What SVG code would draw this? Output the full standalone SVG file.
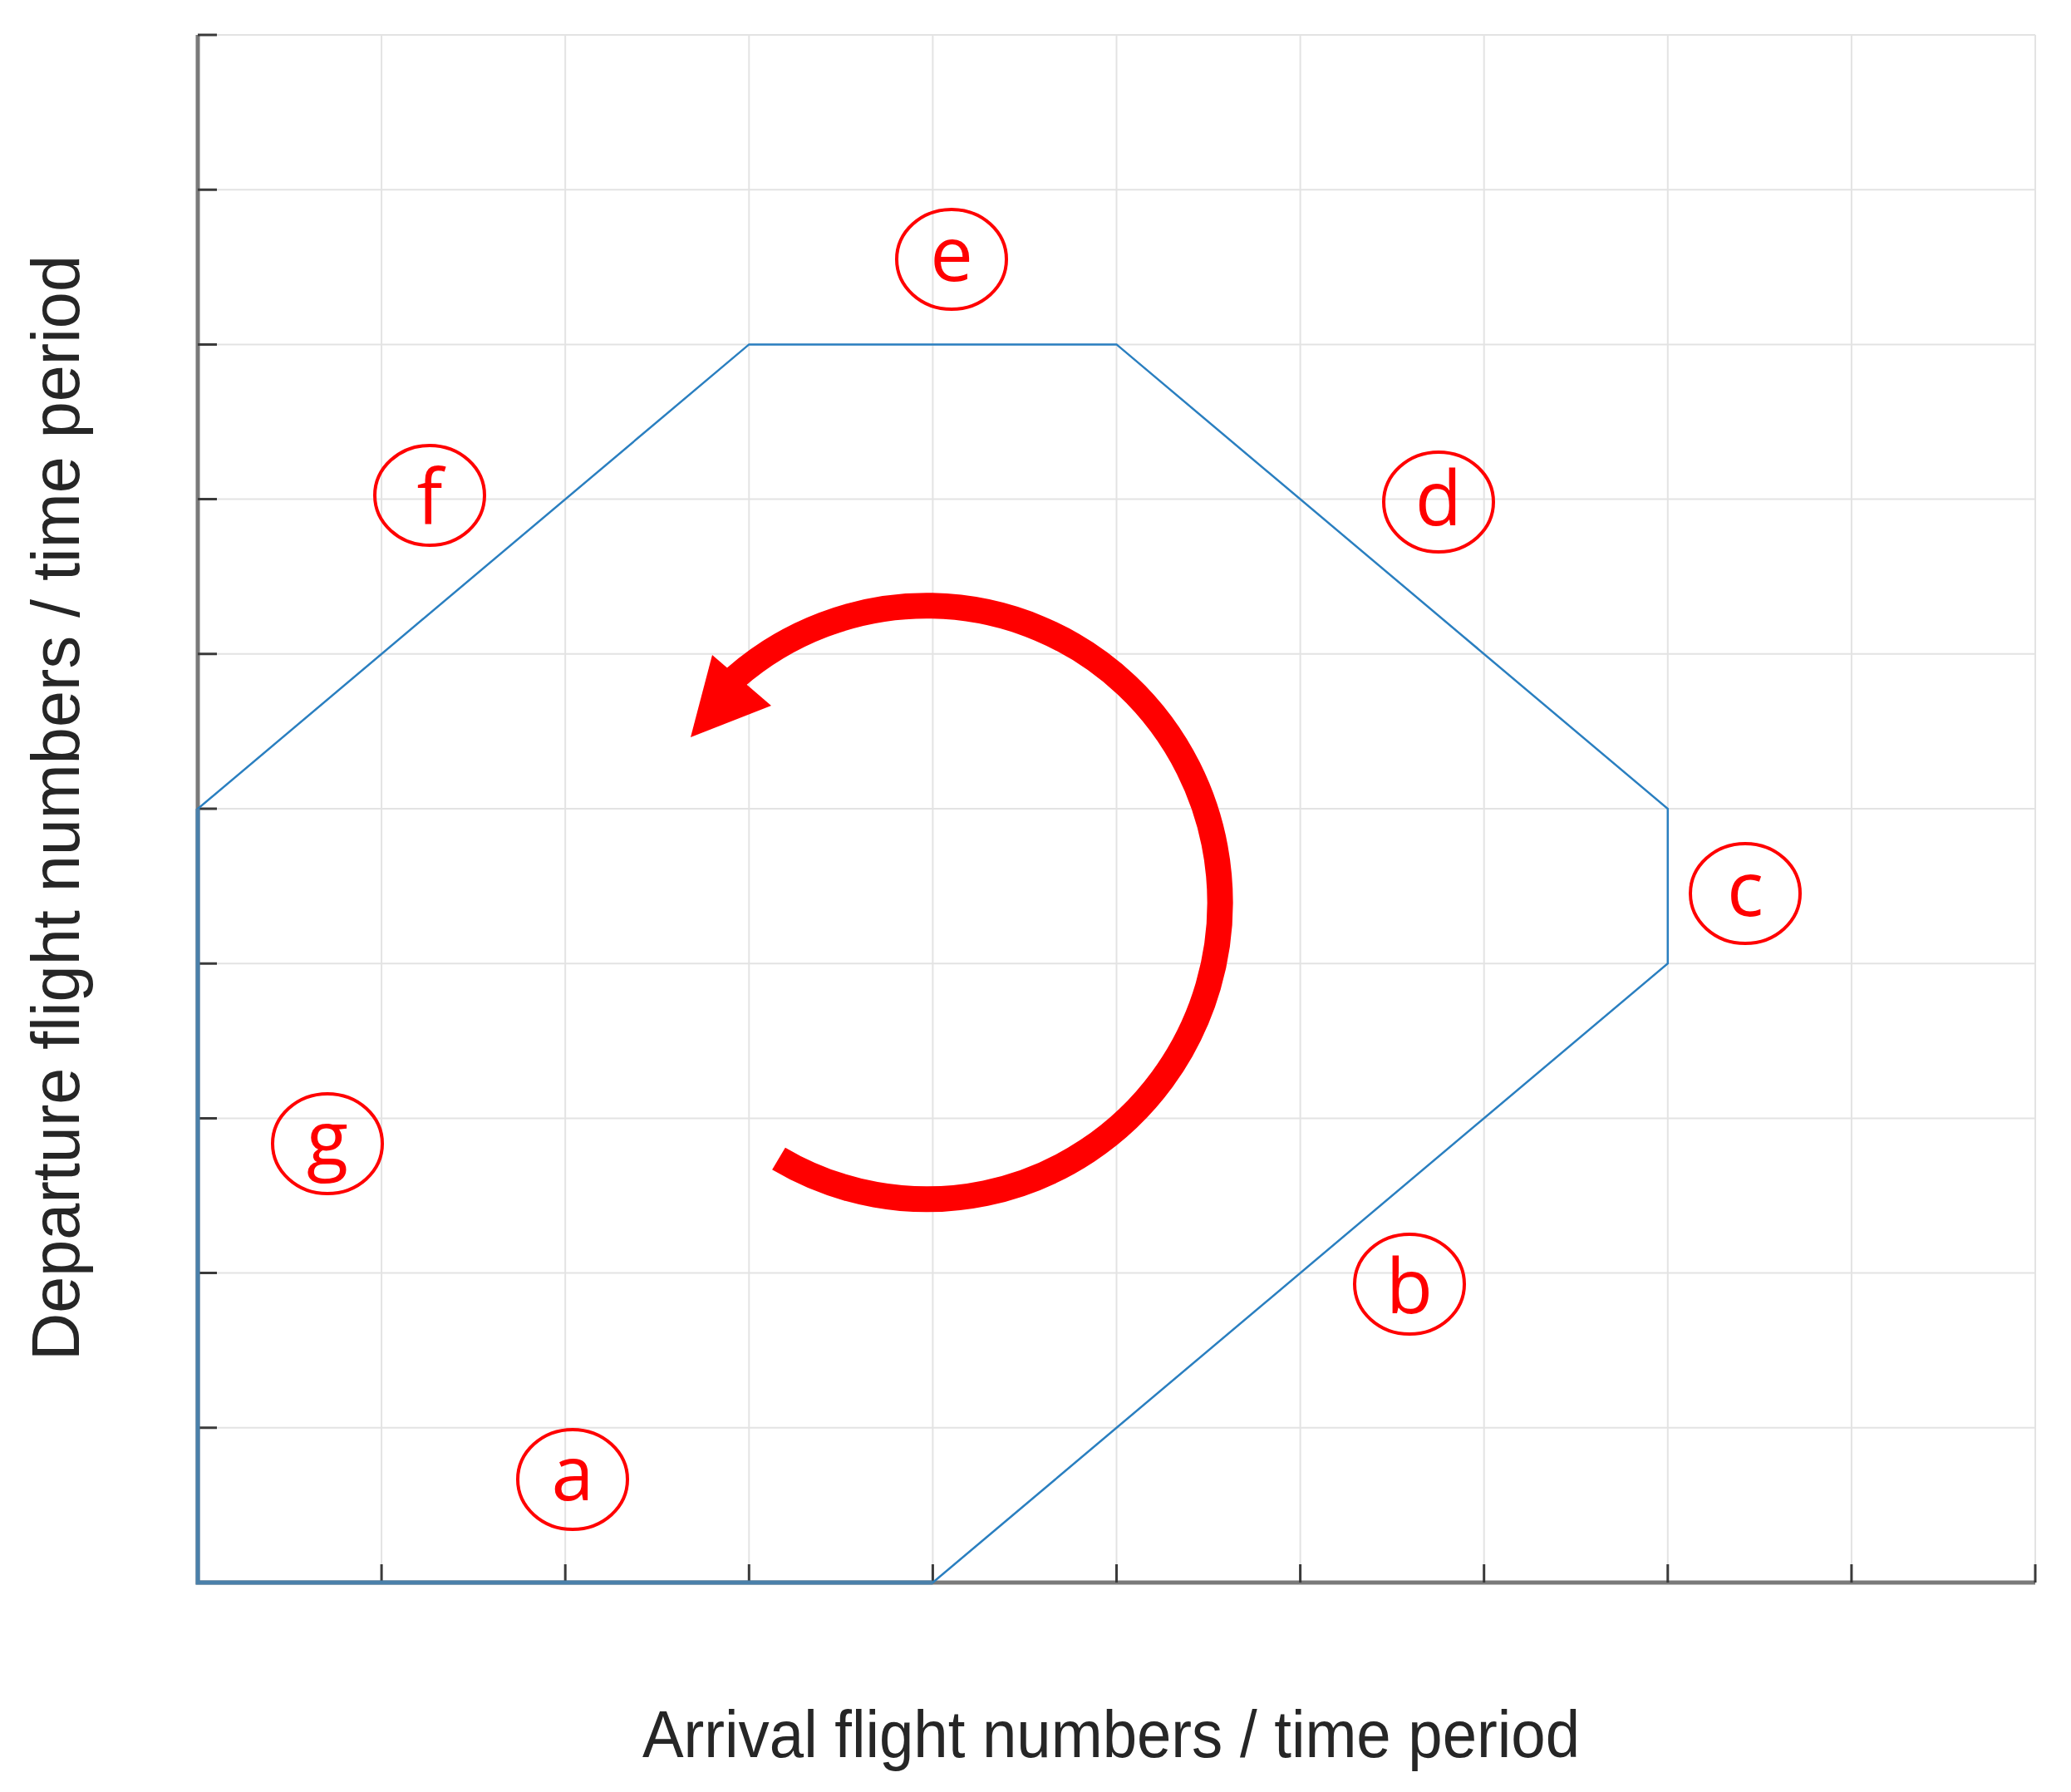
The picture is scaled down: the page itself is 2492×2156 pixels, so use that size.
<svg xmlns="http://www.w3.org/2000/svg" width="2492" height="2156" viewBox="0 0 2492 2156">
<style>
.grid{stroke:#e3e3e3;stroke-width:2;fill:none}
.axis{stroke:#7a7a7a;stroke-width:5;fill:none}
.tick{stroke:#3a3a3a;stroke-width:3;fill:none}
.poly{stroke:#2a7fc0;stroke-width:2.5;fill:none;stroke-linejoin:miter}
.ov{stroke:#4a80aa;stroke-width:5;fill:none}
.circ{stroke:#ff0000;stroke-width:4;fill:none}
.lbl{fill:#ff0000;font-family:"Open Sans","Liberation Sans",sans-serif;font-size:92px;text-anchor:middle}
.ax{fill:#262626;font-family:"Liberation Sans",Arial,sans-serif;text-anchor:middle}
</style>
<rect width="2492" height="2156" fill="#ffffff"/>
<g id="grid">
<path class="grid" d="M459.1 42V1904M680.2 42V1904M901.3 42V1904M1122.4 42V1904M1343.5 42V1904M1564.6 42V1904M1785.7 42V1904M2006.8 42V1904M2227.9 42V1904M2449 42V1904"/>
<path class="grid" d="M238 42H2449M238 228.2H2449M238 414.4H2449M238 600.6H2449M238 786.8H2449M238 973H2449M238 1159.2H2449M238 1345.4H2449M238 1531.6H2449M238 1717.8H2449"/>
</g>
<g id="axes">
<path class="axis" d="M238 42V1904H2449"/>
<path class="tick" d="M238 42h23M238 228.2h23M238 414.4h23M238 600.6h23M238 786.8h23M238 973h23M238 1159.2h23M238 1345.4h23M238 1531.6h23M238 1717.8h23"/>
<path class="tick" d="M459.1 1904v-22M680.2 1904v-22M901.3 1904v-22M1122.4 1904v-22M1343.5 1904v-22M1564.6 1904v-22M1785.7 1904v-22M2006.8 1904v-22M2227.9 1904v-22M2449 1904v-22"/>
<text class="ax" x="1337" y="2114" font-size="80" textLength="1128" lengthAdjust="spacingAndGlyphs">Arrival flight numbers / time period</text>
<text class="ax" transform="translate(95 972) rotate(-90)" x="0" y="0" font-size="82" textLength="1330" lengthAdjust="spacingAndGlyphs">Departure flight numbers / time period</text>
</g>
<g id="connectors">
<polygon class="poly" points="238,1904 1122.4,1904 2006.8,1159.2 2006.8,973 1343.5,414.4 901.3,414.4 238,973"/>
<path class="ov" d="M238 973V1904H1122.4"/>
<path id="rotation-arrow" d="M937 1394A353 357 0 1 0 884.4 815.6" stroke="#ff0000" stroke-width="31" fill="none"/>
<polygon points="857,788 928,849 831,887" fill="#ff0000"/>
</g>
<g id="node-a"><ellipse class="circ" cx="689" cy="1780" rx="66" ry="60"/><text class="lbl" x="689" y="1805">a</text></g>
<g id="node-b"><ellipse class="circ" cx="1696" cy="1545" rx="66" ry="60"/><text class="lbl" x="1696" y="1580">b</text></g>
<g id="node-c"><ellipse class="circ" cx="2100" cy="1075" rx="66" ry="60"/><text class="lbl" x="2100" y="1102">c</text></g>
<g id="node-d"><ellipse class="circ" cx="1731" cy="604" rx="66" ry="60"/><text class="lbl" x="1731" y="632">d</text></g>
<g id="node-e"><ellipse class="circ" cx="1145" cy="312" rx="66" ry="60"/><text class="lbl" x="1145" y="338">e</text></g>
<g id="node-f"><ellipse class="circ" cx="517" cy="596" rx="66" ry="60"/><text class="lbl" x="517" y="630">f</text></g>
<g id="node-g"><ellipse class="circ" cx="394" cy="1376" rx="66" ry="60"/><text class="lbl" x="394" y="1402">g</text></g>
</svg>
